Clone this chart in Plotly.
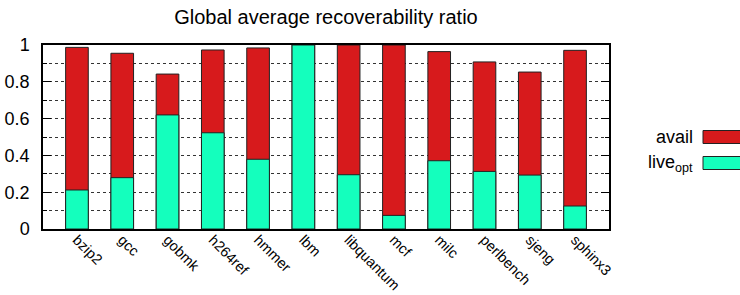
import plotly.graph_objects as go

benchmarks = ["bzip2", "gcc", "gobmk", "h264ref", "hmmer", "lbm", "libquantum",
              "mcf", "milc", "perlbench", "sjeng", "sphinx3"]
avail = [0.987, 0.955, 0.842, 0.973, 0.984, 1.0, 1.0, 1.0, 0.964, 0.908, 0.853, 0.971]
live_opt = [0.212, 0.279, 0.620, 0.523, 0.379, 1.0, 0.295, 0.074, 0.371, 0.313, 0.293, 0.125]
yticks = [0, 0.2, 0.4, 0.6, 0.8, 1]
ytick_text = ["0", "0.2", "0.4", "0.6", "0.8", "1"]

RED = "#d71a1c"
GREEN = "#14ffbd"
FONT = "Liberation Sans, Arial, Helvetica, sans-serif"

x_idx = list(range(len(benchmarks)))

fig = go.Figure()
fig.add_trace(go.Bar(x=x_idx, y=avail, name="avail", width=0.5,
                     marker=dict(color=RED, line=dict(color="#222222", width=1)),
                     showlegend=False))
fig.add_trace(go.Bar(x=x_idx, y=live_opt, name="live<sub>opt</sub>", width=0.5,
                     marker=dict(color=GREEN, line=dict(color="#222222", width=1)),
                     showlegend=False))

fig.update_layout(
    width=740, height=295,
    margin=dict(l=43, r=131, t=45, b=66, autoexpand=False),
    barmode="overlay",
    plot_bgcolor="white", paper_bgcolor="white",
    font=dict(family=FONT, size=16, color="black"),
    title=dict(text="Global average recoverability ratio", x=(43 + 609) / 2 / 740,
               xanchor="center", y=1 - 17 / 295, yanchor="middle",
               font=dict(size=20, family=FONT, color="black")),
    xaxis=dict(range=[-0.75, 11.75], tickmode="array", tickvals=x_idx,
               ticktext=benchmarks, tickangle=45, showgrid=False,
               showline=True, linecolor="black", linewidth=1.5, mirror=True,
               ticks="", zeroline=False, tickfont=dict(size=14.5),
               ticklabelstandoff=-5, automargin=False),
    yaxis=dict(range=[0, 1], tickmode="array", tickvals=yticks,
               ticktext=ytick_text,
               showline=True, linecolor="black", linewidth=1.5, mirror="ticks",
               ticks="inside", ticklen=8, tickcolor="black", tickwidth=1,
               showgrid=True, gridcolor="#333333", griddash="dot", gridwidth=1,
               minor=dict(dtick=0.1, showgrid=True, gridcolor="#333333",
                          griddash="dot", gridwidth=1, ticks="inside",
                          ticklen=4, tickcolor="black"),
               zeroline=False, ticklabelstandoff=8, tickfont=dict(size=18),
               automargin=False),
)

# manual legend (text on the left, swatch on the right, gnuplot style)
legend_items = [("avail", RED, 137), ("live<sub>opt</sub>", GREEN, 163)]
for label, color, ypix in legend_items:
    fig.add_annotation(text=label, xref="paper", yref="paper",
                       x=(695 - 43) / 566, y=1 - (ypix - 45) / 184,
                       xanchor="right", yanchor="middle", showarrow=False,
                       font=dict(size=18, family=FONT, color="black"))
    fig.add_shape(type="rect", xref="paper", yref="paper",
                  x0=(703 - 43) / 566, x1=(750 - 43) / 566,
                  y0=1 - (ypix - 6.5 - 45) / 184, y1=1 - (ypix + 6.5 - 45) / 184,
                  fillcolor=color, line=dict(color="#222222", width=1))

fig.write_html("out.html", config={"displayModeBar": False},
               post_script="document.body.style.margin='0';document.body.style.overflow='hidden';")
